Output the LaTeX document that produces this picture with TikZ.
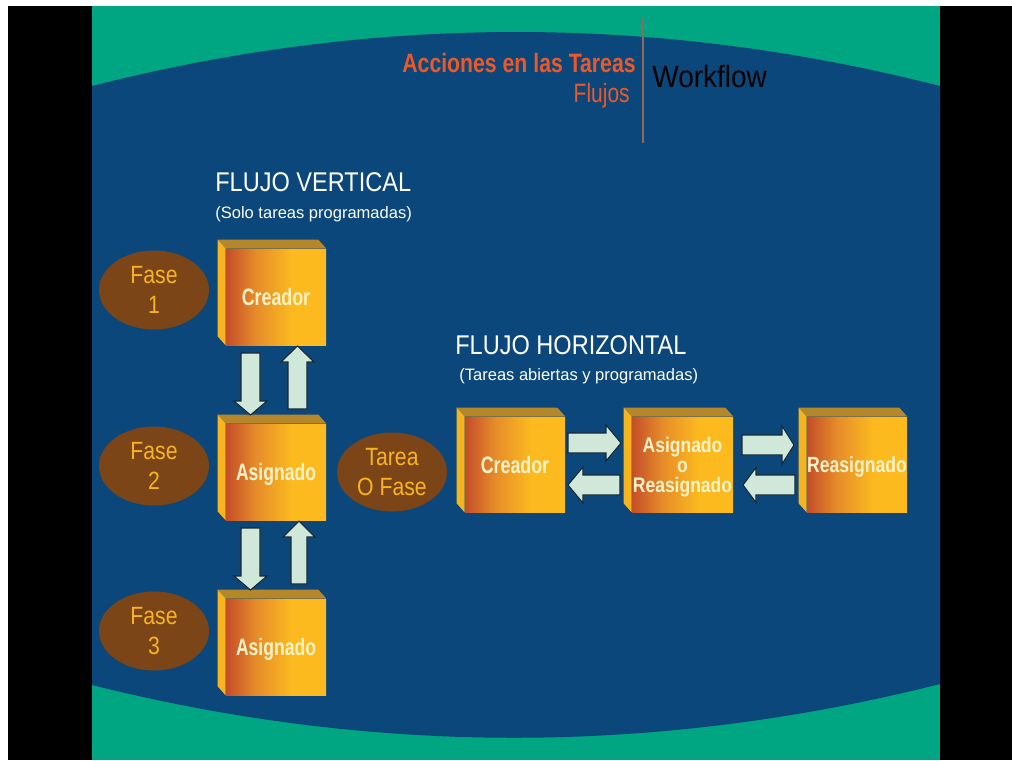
\documentclass[tikz,border=0pt]{standalone}
\usepackage{fontspec}
\setmainfont{Liberation Sans}
\usepackage{graphicx}
\usetikzlibrary{shapes.geometric}

\definecolor{bggreen}{RGB}{0,166,130}
\definecolor{bgblue}{RGB}{11,71,122}
\definecolor{ellbrown}{RGB}{124,69,24}
\definecolor{elltext}{RGB}{247,180,32}
\definecolor{titleorange}{RGB}{236,88,40}
\definecolor{arrfill}{RGB}{208,232,218}
\definecolor{arrline}{RGB}{25,40,50}
\definecolor{boxred}{RGB}{196,78,40}
\definecolor{boxorange}{RGB}{230,140,42}
\definecolor{boxyellow}{RGB}{252,186,30}
\definecolor{boxtopc}{RGB}{182,134,42}
\definecolor{boxsidec}{RGB}{246,180,30}
\definecolor{boxtext}{RGB}{255,242,200}
\definecolor{sepline}{RGB}{140,106,92}

\pgfdeclarehorizontalshading{boxshade}{100bp}{color(0bp)=(boxred); color(25bp)=(boxred); color(40bp)=(boxorange); color(58bp)=(boxyellow); color(100bp)=(boxyellow)}

\tikzset{
  boxfront/.style={shade, shading=boxshade, minimum width=20mm, minimum height=19.2mm, inner sep=0pt, text depth=0pt, text=boxtext, font=\bfseries\fontsize{13.5}{14}\selectfont, align=center},
  hboxfront/.style={minimum height=19mm},
  ell/.style={ellipse, fill=ellbrown, minimum width=22mm, minimum height=15.8mm, inner sep=0pt, text=elltext, align=center, font=\fontsize{14.2}{17}\selectfont},
  blockarrow/.style={fill=arrfill, draw=arrline, line width=0.6pt, line join=miter},
  lbl/.style={inner sep=0pt, text=white}
}

\newcommand\BoxBlock[5][]{%
  \node[boxfront,#1] (#2) at (#3,#4) {#5};
  \fill[boxtopc] (#2.north west) -- ++(-8,-9) -- ([shift={(-8,-9)}]#2.north east) -- (#2.north east) -- cycle;
  \fill[boxsidec] (#2.north west) -- ++(-8,-9) -- ([shift={(-8,-9)}]#2.south west) -- (#2.south west) -- cycle;
}
\newcommand\VArrow[6]{\draw[blockarrow] (#1-#2,#4) -- (#1+#2,#4) -- (#1+#2,#5) -- (#1+#3,#5) -- (#1,#6) -- (#1-#3,#5) -- (#1-#2,#5) -- cycle;}
\newcommand\HArrow[6]{\draw[blockarrow] (#4,#1-#2) -- (#5,#1-#2) -- (#5,#1-#3) -- (#6,#1) -- (#5,#1+#3) -- (#5,#1+#2) -- (#4,#1+#2) -- cycle;}
\newcommand\nr[2]{\scalebox{#1}[1]{#2}}

\begin{document}
\begin{tikzpicture}[x=0.2mm,y=-0.2mm]
\useasboundingbox (0,0) rectangle (1012,760);
% background
\fill[white] (0,0) rectangle (1012,760);
\fill[black] (8,6) rectangle (1012,760);
\fill[bggreen] (92,6) rectangle (940,760);
\fill[bgblue] (92,86) .. controls (374.7,14) and (657.3,14) .. (940,86) -- (940,684) .. controls (657.3,755.3) and (374.7,755.7) .. (92,685) -- cycle;

% header
\node[anchor=base east, inner sep=0pt, text=titleorange, font=\bfseries\fontsize{15.1}{18}\selectfont] (title) at (636,72) {\nr{0.8}{Acciones en las Tareas}};
\node[anchor=base east, inner sep=0pt, text=titleorange, font=\fontsize{15.1}{18}\selectfont] (sub) at (630,102) {\nr{0.79}{Flujos}};
\node[anchor=base west, inner sep=0pt, text=black, font=\fontsize{17.5}{20}\selectfont] (wf) at (652,87) {\nr{0.91}{Workflow}};
\draw[sepline, line width=0.6pt] (643,18) -- (643,143);

% headings
\node[lbl, anchor=base west, font=\fontsize{15.4}{18}\selectfont] (fv) at (215,191) {\nr{0.87}{FLUJO VERTICAL}};
\node[lbl, anchor=base west, font=\fontsize{9.4}{11}\selectfont] (fvs) at (215,218) {(Solo tareas programadas)};
\node[lbl, anchor=base west, font=\fontsize{15.4}{18}\selectfont] (fh) at (455,354) {\nr{0.87}{FLUJO HORIZONTAL}};
\node[lbl, anchor=base west, font=\fontsize{9.4}{11}\selectfont] (fhs) at (459,380) {(Tareas abiertas y programadas)};

% ellipses
\node[ell] (f1) at (154,290) {\nr{0.85}{Fase}\\\nr{0.85}{1}};
\node[ell] (f2) at (154,466) {\nr{0.85}{Fase}\\\nr{0.85}{2}};
\node[ell] (f3) at (154,631) {\nr{0.85}{Fase}\\\nr{0.85}{3}};
\node[ell] (tf) at (392,472) {\nr{0.85}{Tarea}\\\nr{0.85}{O Fase}};

% vertical boxes
\BoxBlock{v1}{276}{297}{\nr{0.75}{Creador}}
\BoxBlock{v2}{276}{472}{\nr{0.74}{Asignado}}
\BoxBlock{v3}{276}{647}{\nr{0.74}{Asignado}}

% horizontal boxes
\BoxBlock[hboxfront]{h1}{515}{464.5}{\nr{0.75}{Creador}}
\BoxBlock[hboxfront,minimum width=20.2mm,font=\bfseries\fontsize{12}{11.4}\selectfont]{h2}{682.5}{464.5}{\nr{0.83}{Asignado}\\\nr{0.83}{o}\\\nr{0.83}{Reasignado}}
\BoxBlock[hboxfront,font=\bfseries\fontsize{12.5}{14}\selectfont]{h3}{857}{464.5}{\nr{0.8}{Reasignado}}

% vertical arrows
\VArrow{250.5}{9.5}{16.5}{353}{401}{415}
\VArrow{297.5}{9.5}{16.5}{409}{362}{346}
\VArrow{250.5}{9.5}{16.5}{528}{576}{590}
\VArrow{299}{8}{16}{584}{537}{521}

% horizontal arrows
\HArrow{443}{10}{18}{568}{606}{621}
\HArrow{485}{10}{18}{620}{583}{568}
\HArrow{445}{10}{19}{742}{782}{794}
\HArrow{485}{10}{17.5}{795}{756}{743}
\end{tikzpicture}
\end{document}
